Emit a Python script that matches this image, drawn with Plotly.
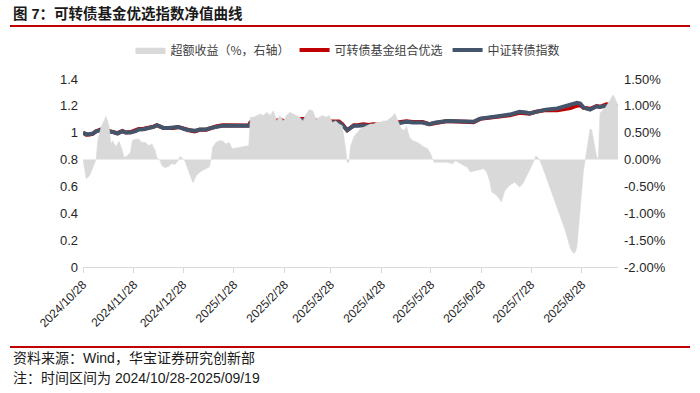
import plotly.graph_objects as go

# ---------------- data ----------------
ex_dates = [
    "2024-10-28", "2024-10-30", "2024-11-01", "2024-11-03", "2024-11-05", "2024-11-06",
    "2024-11-08", "2024-11-11", "2024-11-12", "2024-11-13", "2024-11-14", "2024-11-15",
    "2024-11-17", "2024-11-19", "2024-11-21", "2024-11-22", "2024-11-24", "2024-11-26",
    "2024-11-27", "2024-11-29", "2024-12-01", "2024-12-03", "2024-12-05", "2024-12-07",
    "2024-12-09", "2024-12-11", "2024-12-12", "2024-12-14", "2024-12-15", "2024-12-17",
    "2024-12-19", "2024-12-21", "2024-12-23", "2024-12-25", "2024-12-26", "2024-12-29",
    "2024-12-31", "2025-01-02", "2025-01-03", "2025-01-05", "2025-01-07", "2025-01-09",
    "2025-01-11", "2025-01-13", "2025-01-14", "2025-01-15", "2025-01-17", "2025-01-19",
    "2025-01-21", "2025-01-23", "2025-01-25", "2025-01-27", "2025-02-06", "2025-02-07",
    "2025-02-09", "2025-02-11", "2025-02-13", "2025-02-15", "2025-02-17", "2025-02-19",
    "2025-02-21", "2025-02-23", "2025-02-25", "2025-02-27", "2025-03-01", "2025-03-03",
    "2025-03-05", "2025-03-07", "2025-03-09", "2025-03-11", "2025-03-13", "2025-03-15",
    "2025-03-17", "2025-03-19", "2025-03-21", "2025-03-23", "2025-03-25", "2025-03-27",
    "2025-03-29", "2025-03-31", "2025-04-02", "2025-04-04", "2025-04-05", "2025-04-06",
    "2025-04-07", "2025-04-08", "2025-04-09", "2025-04-11", "2025-04-13", "2025-04-15",
    "2025-04-17", "2025-04-19", "2025-04-21", "2025-04-23", "2025-04-25", "2025-04-27",
    "2025-04-29", "2025-05-01", "2025-05-04", "2025-05-06", "2025-05-08", "2025-05-10",
    "2025-05-12", "2025-05-13", "2025-05-15", "2025-05-17", "2025-05-20", "2025-05-23",
    "2025-05-26", "2025-05-28", "2025-05-29", "2025-05-30", "2025-06-03", "2025-06-07",
    "2025-06-10", "2025-06-12", "2025-06-15", "2025-06-19", "2025-06-21", "2025-06-25",
    "2025-06-29", "2025-07-01", "2025-07-03", "2025-07-04", "2025-07-06", "2025-07-08",
    "2025-07-10", "2025-07-12", "2025-07-15", "2025-07-18", "2025-07-21", "2025-07-23",
    "2025-07-26", "2025-07-29", "2025-07-31", "2025-08-02", "2025-08-04", "2025-08-07",
    "2025-08-09", "2025-08-12", "2025-08-15", "2025-08-18", "2025-08-20", "2025-08-21",
    "2025-08-23", "2025-08-24", "2025-08-25", "2025-08-27", "2025-08-28", "2025-08-29",
    "2025-08-30", "2025-08-31", "2025-09-02", "2025-09-03", "2025-09-05", "2025-09-06",
    "2025-09-07", "2025-09-08", "2025-09-09", "2025-09-11", "2025-09-13", "2025-09-15",
    "2025-09-16", "2025-09-17", "2025-09-18", "2025-09-19",
]
ex_vals = [
    0.00, -0.36, -0.30, -0.14, 0.00, 0.35,
    0.60, 0.80, 0.72, 0.60, 0.29, 0.35,
    0.24, 0.34, 0.17, 0.04, 0.07, 0.14,
    0.35, 0.38, 0.38, 0.32, 0.32, 0.26,
    0.29, 0.17, 0.04, -0.02, -0.11, -0.15,
    -0.13, -0.08, -0.09, -0.02, 0.06, -0.02,
    -0.20, -0.36, -0.43, -0.30, -0.24, -0.20,
    -0.17, -0.14, 0.00, 0.23, 0.32, 0.35,
    0.35, 0.29, 0.32, 0.20, 0.26, 0.79,
    0.79, 0.82, 0.85, 0.82, 0.88, 0.82,
    0.91, 0.72, 0.82, 0.72, 0.82, 0.88,
    0.85, 0.82, 0.79, 0.72, 0.85, 0.93,
    0.91, 0.74, 0.79, 0.82, 0.79, 0.82,
    0.69, 0.72, 0.66, 0.63, 0.45, 0.20,
    -0.05, -0.05, 0.25, 0.42, 0.50, 0.57,
    0.60, 0.63, 0.66, 0.66, 0.69, 0.69,
    0.72, 0.72, 0.79, 0.86, 0.72, 0.57,
    0.54, 0.63, 0.41, 0.35, 0.32, 0.25,
    0.20, 0.10, 0.01, -0.05, -0.05, -0.05,
    -0.08, -0.02, -0.08, -0.14, -0.23, -0.20,
    -0.17, -0.23, -0.42, -0.60, -0.64, -0.70,
    -0.79, -0.58, -0.48, -0.42, -0.51, -0.45,
    -0.27, -0.08, 0.07, 0.01, -0.14, -0.40,
    -0.55, -0.85, -1.10, -1.33, -1.55, -1.66,
    -1.75, -1.72, -1.62, -1.00, -0.55, -0.20,
    0.00, 0.20, 0.57, 0.55, 0.23, 0.05,
    0.02, 0.86, 0.90, 0.95, 1.05, 1.15,
    1.20, 1.15, 1.08, 1.00,
]

nav_dates = [
    "2024-10-28", "2024-10-30", "2024-11-01", "2024-11-03", "2024-11-05", "2024-11-07",
    "2024-11-10", "2024-11-12", "2024-11-15", "2024-11-18", "2024-11-21", "2024-11-23",
    "2024-11-26", "2024-11-29", "2024-12-01", "2024-12-04", "2024-12-07", "2024-12-10",
    "2024-12-12", "2024-12-14", "2024-12-16", "2024-12-19", "2024-12-22", "2024-12-25",
    "2024-12-28", "2024-12-31", "2025-01-02", "2025-01-04", "2025-01-07", "2025-01-11",
    "2025-01-14", "2025-01-17", "2025-01-21", "2025-01-26", "2025-01-31", "2025-02-06",
    "2025-02-07", "2025-02-11", "2025-02-15", "2025-02-18", "2025-02-21", "2025-02-24",
    "2025-02-26", "2025-02-28", "2025-03-03", "2025-03-06", "2025-03-09", "2025-03-13",
    "2025-03-16", "2025-03-19", "2025-03-22", "2025-03-25", "2025-03-29", "2025-04-02",
    "2025-04-04", "2025-04-06", "2025-04-07", "2025-04-09", "2025-04-11", "2025-04-14",
    "2025-04-17", "2025-04-20", "2025-04-23", "2025-04-27", "2025-05-03", "2025-05-09",
    "2025-05-13", "2025-05-17", "2025-05-23", "2025-05-27", "2025-05-31", "2025-06-07",
    "2025-06-13", "2025-06-19", "2025-06-23", "2025-06-27", "2025-07-03", "2025-07-09",
    "2025-07-15", "2025-07-21", "2025-07-25", "2025-07-27", "2025-07-31", "2025-08-06",
    "2025-08-13", "2025-08-17", "2025-08-21", "2025-08-25", "2025-08-27", "2025-08-29",
    "2025-09-02", "2025-09-06", "2025-09-08", "2025-09-12", "2025-09-16", "2025-09-19",
]
index_nav = [
    1.000, 0.989, 0.989, 0.994, 1.011, 1.014,
    1.026, 1.009, 1.006, 0.994, 1.011, 1.001,
    1.001, 1.011, 1.024, 1.026, 1.031, 1.043,
    1.056, 1.043, 1.036, 1.036, 1.036, 1.043,
    1.031, 1.019, 1.019, 1.014, 1.024, 1.024,
    1.036, 1.043, 1.051, 1.051, 1.051, 1.051,
    1.068, 1.068, 1.068, 1.068, 1.076, 1.085,
    1.085, 1.076, 1.081, 1.093, 1.093, 1.093,
    1.093, 1.081, 1.081, 1.081, 1.076, 1.076,
    1.056, 1.031, 1.019, 1.036, 1.051, 1.051,
    1.056, 1.051, 1.056, 1.054, 1.061, 1.073,
    1.081, 1.076, 1.076, 1.063, 1.076, 1.088,
    1.085, 1.085, 1.081, 1.105, 1.118, 1.125,
    1.135, 1.155, 1.150, 1.143, 1.155, 1.172,
    1.180, 1.192, 1.204, 1.222, 1.217, 1.187,
    1.172, 1.197, 1.192, 1.200, 1.192, 1.180,
]
fund_nav = [
    1.000, 0.985, 0.986, 0.993, 1.011, 1.019,
    1.034, 1.016, 1.010, 0.997, 1.013, 1.002,
    1.005, 1.015, 1.028, 1.029, 1.034, 1.045,
    1.056, 1.043, 1.035, 1.035, 1.035, 1.043,
    1.031, 1.017, 1.015, 1.010, 1.022, 1.022,
    1.036, 1.046, 1.055, 1.053, 1.053, 1.054,
    1.076, 1.077, 1.077, 1.077, 1.085, 1.093,
    1.093, 1.085, 1.089, 1.101, 1.101, 1.102,
    1.103, 1.089, 1.090, 1.090, 1.084, 1.083,
    1.063, 1.033, 1.019, 1.037, 1.055, 1.057,
    1.063, 1.058, 1.063, 1.060, 1.069, 1.080,
    1.086, 1.080, 1.079, 1.064, 1.075, 1.087,
    1.084, 1.083, 1.079, 1.103, 1.113, 1.116,
    1.129, 1.149, 1.146, 1.141, 1.156, 1.168,
    1.168, 1.177, 1.184, 1.201, 1.205, 1.186,
    1.178, 1.198, 1.193, 1.211, 1.206, 1.192,
]

tick_dates = [
    "2024-10-28", "2024-11-28", "2024-12-28", "2025-01-28", "2025-02-28", "2025-03-28",
    "2025-04-28", "2025-05-28", "2025-06-28", "2025-07-28", "2025-08-28",
]
tick_labels = [
    "2024/10/28", "2024/11/28", "2024/12/28", "2025/1/28", "2025/2/28", "2025/3/28",
    "2025/4/28", "2025/5/28", "2025/6/28", "2025/7/28", "2025/8/28",
]
left_ticks = [0, 0.2, 0.4, 0.6, 0.8, 1.0, 1.2, 1.4]
left_labels = ["0", "0.2", "0.4", "0.6", "0.8", "1", "1.2", "1.4"]
right_ticks = [-2.0, -1.5, -1.0, -0.5, 0.0, 0.5, 1.0, 1.5]
right_labels = ["-2.00%", "-1.50%", "-1.00%", "-0.50%", "0.00%", "0.50%", "1.00%", "1.50%"]

title_text = "图 7：可转债基金优选指数净值曲线"
source_text = "资料来源：Wind，华宝证券研究创新部"
note_text = "注：时间区间为 2024/10/28-2025/09/19"
name_excess = "超额收益（%，右轴）"
name_fund = "可转债基金组合优选"
name_index = "中证转债指数"

# ---------------- figure ----------------
FONT = "Liberation Sans, Arial, Noto Sans CJK SC, sans-serif"
CJK = "Noto Sans CJK SC, Liberation Sans, sans-serif"

fig = go.Figure()
fig.add_trace(go.Scatter(
    x=ex_dates, y=ex_vals, name=name_excess, yaxis="y2",
    mode="lines", fill="tozeroy", fillcolor="#d9d9d9",
    line=dict(color="#d9d9d9", width=0.5),
))
fig.add_trace(go.Scatter(
    x=nav_dates, y=fund_nav, name=name_fund, mode="lines",
    line=dict(color="#c00000", width=4),
))
fig.add_trace(go.Scatter(
    x=nav_dates, y=index_nav, name=name_index, mode="lines",
    line=dict(color="#44546a", width=4),
))

L, R, T, B = 83, 82, 79, 126
W, H = 700, 393
pw, ph = W - L - R, H - T - B

def px_x(p):
    return (p - L) / pw

def px_y(p):
    return (H - B - p) / ph

fig.update_layout(
    width=W, height=H,
    margin=dict(l=L, r=R, t=T, b=B),
    paper_bgcolor="white", plot_bgcolor="white",
    font=dict(family=FONT, size=12, color="#262626"),
    showlegend=True,
    legend=dict(
        orientation="h", x=px_x(348), y=px_y(50), xanchor="center", yanchor="middle",
        font=dict(family=CJK, size=12, color="#404040"),
        bgcolor="rgba(0,0,0,0)", itemwidth=30, traceorder="normal",
    ),
    xaxis=dict(
        type="date", range=["2024-10-28", "2025-09-19"],
        tickvals=tick_dates, ticktext=tick_labels, tickangle=-45,
        tickfont=dict(family=FONT, size=12, color="#262626"),
        ticks="outside", ticklen=5, tickcolor="#d9d9d9",
        showline=True, linecolor="#d9d9d9", linewidth=1,
        showgrid=False, zeroline=False,
    ),
    yaxis=dict(
        range=[0, 1.4], tickvals=left_ticks, ticktext=left_labels,
        tickfont=dict(family=FONT, size=13, color="#262626"),
        showgrid=False, zeroline=False, showline=False, ticks="",
        ticklabelstandoff=4,
    ),
    yaxis2=dict(
        range=[-2.0, 1.5], overlaying="y", side="right",
        tickvals=right_ticks, ticktext=right_labels,
        tickfont=dict(family=FONT, size=13, color="#262626"),
        showgrid=False, zeroline=False, showline=False, ticks="",
        ticklabelstandoff=5,
    ),
)

fig.add_annotation(
    text="<b>" + title_text + "</b>", xref="paper", yref="paper",
    x=px_x(11), y=px_y(13), xanchor="left", yanchor="middle", showarrow=False,
    font=dict(family=FONT, size=14.5, color="#1a1a1a"),
)
fig.add_shape(type="line", xref="paper", yref="paper",
              x0=px_x(10), x1=px_x(690), y0=px_y(26), y1=px_y(26),
              line=dict(color="#c00000", width=2))
fig.add_shape(type="line", xref="paper", yref="paper",
              x0=px_x(10), x1=px_x(690), y0=px_y(347), y1=px_y(347),
              line=dict(color="#c00000", width=2))
fig.add_annotation(
    text=source_text, xref="paper", yref="paper",
    x=px_x(11), y=px_y(358), xanchor="left", yanchor="middle", showarrow=False,
    font=dict(family=FONT, size=14, color="#1a1a1a"),
)
fig.add_annotation(
    text=note_text, xref="paper", yref="paper",
    x=px_x(11), y=px_y(378), xanchor="left", yanchor="middle", showarrow=False,
    font=dict(family=FONT, size=14, color="#1a1a1a"),
)

fig.write_html("out.html", config={"displayModeBar": False},
               post_script="document.body.style.margin='0';")
